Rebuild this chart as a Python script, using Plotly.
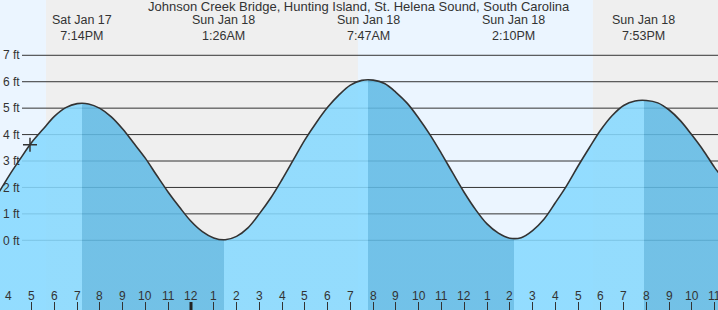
import plotly.graph_objects as go

# ---------------- data (hours since Sat Jan 17 00:00, heights in ft) ----------------
times = [15.5, 16.0, 16.5, 17.0, 17.5, 18.0, 18.5, 19.0, 19.5, 20.0,
         20.5, 21.0, 21.5, 22.0, 22.5, 23.0, 23.5, 24.0, 24.5, 25.0,
         25.5, 26.0, 26.5, 27.0, 27.5, 28.0, 28.5, 29.0, 29.5, 30.0,
         30.5, 31.0, 31.5, 32.0, 32.5, 33.0, 33.5, 34.0, 34.5, 35.0,
         35.5, 36.0, 36.5, 37.0, 37.5, 38.0, 38.5, 39.0, 39.5, 40.0,
         40.5, 41.0, 41.5, 42.0, 42.5, 43.0, 43.5, 44.0, 44.5, 45.0,
         45.5, 46.0, 46.5, 47.0, 47.5]
heights = [1.72, 2.43, 3.08, 3.70, 4.20, 4.69, 5.02, 5.17, 5.16, 4.99,
           4.67, 4.21, 3.66, 3.10, 2.45, 1.82, 1.25, 0.72, 0.33, 0.09,
           0.02, 0.15, 0.47, 1.00, 1.60, 2.30, 3.05, 3.80, 4.45, 5.03,
           5.50, 5.87, 6.05, 6.06, 5.93, 5.60, 5.18, 4.62, 3.99, 3.28,
           2.54, 1.81, 1.16, 0.62, 0.27, 0.08, 0.10, 0.37, 0.80, 1.42,
           2.07, 2.81, 3.51, 4.18, 4.72, 5.10, 5.27, 5.29, 5.20, 4.93,
           4.52, 3.98, 3.40, 2.75, 2.20]

extreme_times = [19.233, 25.433, 31.783, 38.167, 43.883]
extreme_kinds = ["high", "low", "high", "low", "high"]
extreme_dates = ["Sat Jan 17", "Sun Jan 18", "Sun Jan 18", "Sun Jan 18", "Sun Jan 18"]
extreme_clock = ["7:14PM", "1:26AM", "7:47AM", "2:10PM", "7:53PM"]

day_starts = [7.32, 31.33]
day_ends = [17.63, 41.65]

now_time = [16.929]
now_height = [3.62]

hour_ticks = [16, 17, 18, 19, 20, 21, 22, 23, 24, 25, 26, 27, 28, 29, 30, 31,
              32, 33, 34, 35, 36, 37, 38, 39, 40, 41, 42, 43, 44, 45, 46, 47]
hour_labels = ["4", "5", "6", "7", "8", "9", "10", "11", "12", "1", "2", "3", "4", "5", "6", "7",
               "8", "9", "10", "11", "12", "1", "2", "3", "4", "5", "6", "7", "8", "9", "10", "11"]
midnight = [24]

ft_ticks = [0, 1, 2, 3, 4, 5, 6, 7]
ft_labels = ["0 ft", "1 ft", "2 ft", "3 ft", "4 ft", "5 ft", "6 ft", "7 ft"]

title = "Johnson Creek Bridge, Hunting Island, St. Helena Sound, South Carolina"

# ---------------- styling ----------------
W, H = 718, 310
X_RANGE = [15.612, 47.144]
Y_RANGE = [-2.637, 9.092]
FLOOR = -2.8
TXT = "#333333"
FONT = "Liberation Sans, Arial, sans-serif"
LIGHT = "rgba(134,217,255,0.87)"
DARK = "rgba(96,186,229,0.87)"

# colorscale for rising (light) / falling (dark) tide
t0, t1 = times[0], times[-1]
def pos(t):
    return (t - t0) / (t1 - t0)

cs = [[0.0, LIGHT]]
cur = LIGHT
for t, k in zip(extreme_times, extreme_kinds):
    nxt = DARK if k == "high" else LIGHT
    cs.append([pos(t), cur])
    cs.append([pos(t), nxt])
    cur = nxt
cs.append([1.0, cur])

fig = go.Figure()

# baseline for fill to the bottom of the chart
fig.add_trace(go.Scatter(x=times, y=[FLOOR] * len(times), mode="lines",
                         line=dict(width=0, color="rgba(0,0,0,0)"),
                         hoverinfo="skip", showlegend=False))
fig.add_trace(go.Scatter(x=times, y=heights, mode="lines",
                         line=dict(color="#333333", width=1.6, shape="spline", smoothing=1),
                         fill="tonexty",
                         fillgradient=dict(type="horizontal", colorscale=cs, start=t0, stop=t1),
                         showlegend=False))
fig.add_trace(go.Scatter(x=now_time, y=now_height, mode="markers",
                         marker=dict(symbol="cross-thin", size=10,
                                     line=dict(color="#333333", width=1.5)),
                         showlegend=False))

shapes = []
for a, b in zip(day_starts, day_ends):
    shapes.append(dict(type="rect", xref="x", yref="paper", x0=a, x1=b, y0=0, y1=1,
                       fillcolor="#ebf5ff", line=dict(width=0), layer="below"))
for v in ft_ticks:
    shapes.append(dict(type="line", xref="paper", yref="y", x0=22 / W, x1=1, y0=v, y1=v,
                       line=dict(color="#333333", width=1), layer="below"))
for m in midnight:
    shapes.append(dict(type="line", xref="x", yref="paper", x0=m, x1=m, y0=0, y1=8 / H,
                       line=dict(color="#222222", width=3), layer="above"))

annotations = [dict(text=title, x=0.5, y=1 - 6.5 / H, xref="paper", yref="paper",
                    showarrow=False, xanchor="center", yanchor="middle",
                    font=dict(family=FONT, size=13, color=TXT))]
for t, d, c in zip(extreme_times, extreme_dates, extreme_clock):
    annotations.append(dict(text=f"{d}<br>{c}", x=t, y=1 - 27.5 / H, xref="x", yref="paper",
                            showarrow=False, xanchor="center", yanchor="middle",
                            font=dict(family=FONT, size=12.5, color=TXT)))
for t, lab in zip(hour_ticks, hour_labels):
    annotations.append(dict(text=lab, x=t, y=1 - 296 / H, xref="x", yref="paper",
                            showarrow=False, xanchor="center", yanchor="middle",
                            font=dict(family=FONT, size=12, color=TXT)))

fig.update_layout(
    width=W, height=H, margin=dict(l=0, r=0, t=0, b=0),
    paper_bgcolor="#efefef", plot_bgcolor="#efefef",
    shapes=shapes, annotations=annotations, showlegend=False,
    xaxis=dict(range=X_RANGE, showgrid=False, zeroline=False, showline=False,
               tickvals=hour_ticks, ticks="inside", ticklen=8, showticklabels=False,
               tickwidth=1, tickcolor="#333333", fixedrange=True),
    yaxis=dict(range=Y_RANGE, showgrid=False, zeroline=False, showline=False,
               tickvals=ft_ticks, ticktext=ft_labels, ticks="", ticklabelposition="inside",
               tickfont=dict(family=FONT, size=12, color=TXT), fixedrange=True),
)

fig.write_html("out.html")
